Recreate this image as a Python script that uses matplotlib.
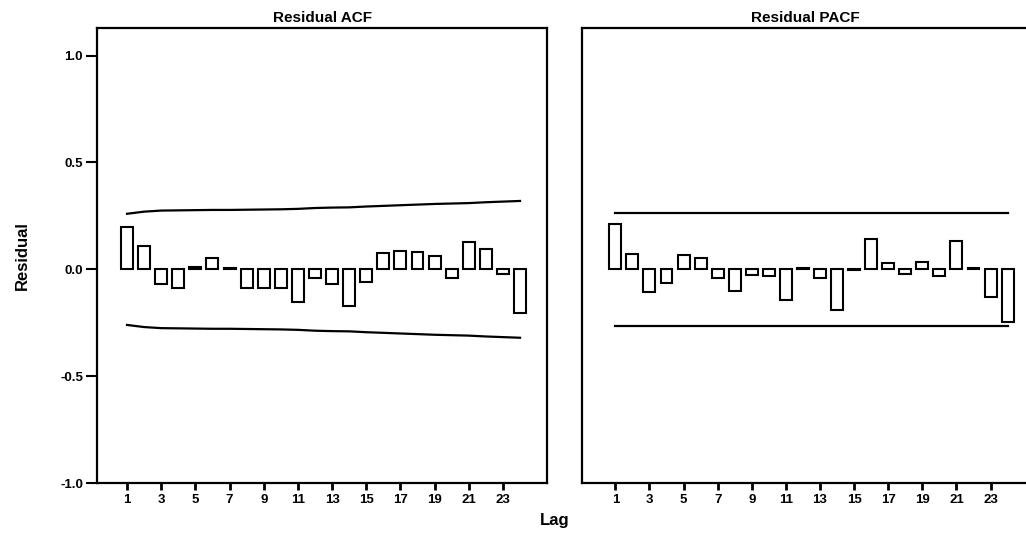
import matplotlib.pyplot as plt
import numpy as np

plt.rcParams['font.family'] = ['Liberation Sans', 'DejaVu Sans']
plt.rcParams['font.weight'] = 'bold'

# lags 1..24
lags = np.arange(1, 25)

# residual ACF values
acf = [0.20, 0.11, -0.07, -0.085, 0.01, 0.055, 0.005, -0.085,
       -0.085, -0.085, -0.155, -0.04, -0.07, -0.17, -0.06, 0.078,
       0.086, 0.082, 0.063, -0.042, 0.128, 0.094, -0.02, -0.205]
# ACF confidence limit (upper), lower is the mirror
acf_conf = [0.260, 0.270, 0.275, 0.276, 0.277, 0.278, 0.278, 0.279,
            0.280, 0.281, 0.283, 0.287, 0.289, 0.290, 0.294, 0.297,
            0.300, 0.303, 0.306, 0.308, 0.310, 0.314, 0.317, 0.320]

# residual PACF values
pacf = [0.21, 0.07, -0.105, -0.063, 0.066, 0.055, -0.04, -0.10,
        -0.025, -0.03, -0.145, 0.005, -0.04, -0.19, -0.005, 0.14,
        0.03, -0.02, 0.035, -0.03, 0.135, 0.005, -0.13, -0.245]
pacf_conf = 0.265

ytick_vals = [-1.0, -0.5, 0.0, 0.5, 1.0]
ytick_labels = ['-1.0', '-0.5', '0.0', '0.5', '1.0']
xtick_vals = list(range(1, 24, 2))

fig = plt.figure(figsize=(10.26, 5.35), dpi=100)
ax1 = fig.add_axes([0.0945, 0.097, 0.439, 0.851])
ax2 = fig.add_axes([0.567, 0.097, 0.435, 0.851])


def style_panel(ax, title):
    for sp in ax.spines.values():
        sp.set_linewidth(1.6)
    ax.set_ylim(-1.0, 1.13)
    ax.set_xticks(xtick_vals)
    ax.set_xticklabels([str(v) for v in xtick_vals], fontsize=9.5, fontweight='bold')
    ax.tick_params(axis='x', direction='out', length=5, width=2, pad=3)
    ax.set_title(title, fontsize=11, fontweight='bold', pad=4)


# ACF panel
ax1.bar(lags, acf, width=0.7, color='white', edgecolor='black', linewidth=1.5)
ax1.plot(lags, acf_conf, color='black', lw=1.6)
ax1.plot(lags, [-v for v in acf_conf], color='black', lw=1.6)
ax1.set_xlim(-0.76, 25.6)
style_panel(ax1, 'Residual ACF')
ax1.set_yticks(ytick_vals)
ax1.set_yticklabels(ytick_labels, fontsize=9.5, fontweight='bold')
ax1.tick_params(axis='y', direction='out', length=8, width=1.5, pad=2)
ax1.set_ylabel('Residual', fontsize=12, fontweight='bold', labelpad=22)

# PACF panel
ax2.bar(lags, pacf, width=0.7, color='white', edgecolor='black', linewidth=1.5)
ax2.plot([lags[0], lags[-1]], [pacf_conf, pacf_conf], color='black', lw=1.6)
ax2.plot([lags[0], lags[-1]], [-pacf_conf, -pacf_conf], color='black', lw=1.6)
ax2.set_xlim(-0.97, 25.2)
style_panel(ax2, 'Residual PACF')
ax2.set_yticks([])

fig.text(0.541, 0.028, 'Lag', ha='center', va='center', fontsize=12, fontweight='bold')

fig.savefig('out.png', dpi=100)
